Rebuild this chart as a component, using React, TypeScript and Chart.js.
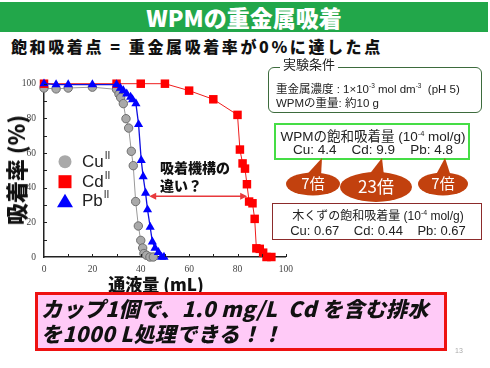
import React, { useEffect, useRef } from "react";
import { Chart, registerables } from "chart.js";

Chart.register(...registerables);

// ---- data ----
const cuVolume = [0, 5, 10, 20, 30, 31, 31.7, 32.8, 33.9, 35, 36.1, 36.9, 37.9, 39, 40, 40.8, 41.3, 42.4, 43.8, 45.2];
const cuRate = [97.5, 97, 97.5, 98, 96.7, 94, 92, 88.5, 79.8, 74.4, 61, 52.7, 32, 17.9, 9.6, 5.2, 2, 1, 0, 0];

const cdVolume = [0, 30, 40, 50, 60, 70, 80, 81, 82.1, 83.1, 83.9, 84.8, 86.2, 87.1, 87.8, 89.2, 90.6, 92, 94];
const cdRate = [100, 100, 100, 100, 96, 91, 82, 62, 54, 51, 42, 32, 31, 22, 5, 4.7, 2.5, 0, 0];

const pbVolume = [0, 5, 10, 20, 30, 31.6, 32.8, 34.2, 35.8, 36.6, 38, 39.1, 40.2, 41, 42, 42.8, 43.9, 44.8, 45.9, 47.3, 48.6, 49.6];
const pbRate = [100, 99.5, 99.5, 99.5, 99.5, 97.5, 96, 94.2, 92.3, 90.8, 88.5, 76.5, 55.8, 46.4, 36.9, 27.3, 17.3, 8.7, 5.2, 2.7, 0, 0];

const seriesNames = ["Cu", "Cd", "Pb"];
const seriesSup = "II";
const xTicks = [0, 20, 40, 60, 80, 100];
const yTicks = [0, 20, 40, 60, 80, 100];
const arrowVolumes = [43.5, 84];
const arrowRate = 35;

const JP = '"Noto Sans CJK JP", sans-serif';
const SANS = '"Liberation Sans", "Noto Sans CJK JP", sans-serif';

const innerTicks = {
  id: "innerTicks",
  afterDraw(chart: any) {
    const { ctx, chartArea, scales } = chart;
    ctx.save();
    ctx.strokeStyle = "#222";
    ctx.lineWidth = 1;
    for (let v = 10; v <= 100; v += 10) {
      const px = Math.round(scales.x.getPixelForValue(v)) + 0.5;
      ctx.beginPath();
      ctx.moveTo(px, chartArea.bottom);
      ctx.lineTo(px, chartArea.bottom - 3);
      ctx.stroke();
      const py = Math.round(scales.y.getPixelForValue(v)) + 0.5;
      ctx.beginPath();
      ctx.moveTo(chartArea.left, py);
      ctx.lineTo(chartArea.left + 3, py);
      ctx.stroke();
    }
    ctx.restore();
  },
};

const arrowPlugin = {
  id: "arrowPlugin",
  afterDatasetsDraw(chart: any) {
    const { ctx, scales } = chart;
    const x1 = scales.x.getPixelForValue(arrowVolumes[0]);
    const x2 = scales.x.getPixelForValue(arrowVolumes[1]);
    const y = scales.y.getPixelForValue(arrowRate);
    ctx.save();
    ctx.strokeStyle = "#e8393c";
    ctx.fillStyle = "#e8393c";
    ctx.lineWidth = 1.5;
    ctx.beginPath();
    ctx.moveTo(x1 + 3, y);
    ctx.lineTo(x2 - 3, y);
    ctx.stroke();
    const head = (tip: number, dir: number) => {
      ctx.beginPath();
      ctx.moveTo(tip, y);
      ctx.lineTo(tip + dir * 7, y - 3.5);
      ctx.lineTo(tip + dir * 7, y + 3.5);
      ctx.closePath();
      ctx.fill();
    };
    head(x1, 1);
    head(x2, -1);
    ctx.restore();
  },
};

const legendPlugin = {
  id: "customLegend",
  afterDraw(chart: any) {
    const { ctx, chartArea } = chart;
    const x0 = chartArea.left + 21;
    const ys = [chartArea.top + 78, chartArea.top + 98, chartArea.top + 117];
    ctx.save();
    chart.data.datasets.forEach((ds: any, i: number) => {
      const y = ys[i];
      ctx.fillStyle = ds.pointBackgroundColor;
      ctx.beginPath();
      if (ds.pointStyle === "circle") {
        ctx.arc(x0, y, 6.5, 0, Math.PI * 2);
        ctx.fill();
      } else if (ds.pointStyle === "rect") {
        ctx.rect(x0 - 6.5, y - 6.5, 13, 13);
        ctx.fill();
      } else {
        ctx.moveTo(x0, y - 7);
        ctx.lineTo(x0 + 8, y + 6.5);
        ctx.lineTo(x0 - 8, y + 6.5);
        ctx.closePath();
        ctx.fill();
      }
      ctx.fillStyle = "#222";
      ctx.textBaseline = "middle";
      ctx.textAlign = "left";
      ctx.font = '17px "Liberation Sans", sans-serif';
      const name = seriesNames[i];
      ctx.fillText(name, x0 + 17, y + 1);
      const w = ctx.measureText(name).width;
      ctx.font = '10px "Liberation Sans", sans-serif';
      ctx.fillText(seriesSup, x0 + 18 + w, y - 5);
    });
    ctx.restore();
  },
};

function SlideChart() {
  const ref = useRef<HTMLCanvasElement | null>(null);
  useEffect(() => {
    if (!ref.current) return;
    const toPts = (xs: number[], ys: number[]) => xs.map((x, i) => ({ x, y: ys[i] }));
    const chart = new Chart(ref.current, {
      type: "line",
      data: {
        datasets: [
          {
            label: "CuII",
            data: toPts(cuVolume, cuRate),
            borderColor: "#9a9a9a",
            borderWidth: 1,
            pointStyle: "circle",
            pointRadius: 4.2,
            pointBackgroundColor: "#a9a9a9",
            pointBorderColor: "#6e6e6e",
            pointBorderWidth: 1,
            order: 2,
            clip: false,
          },
          {
            label: "CdII",
            data: toPts(cdVolume, cdRate),
            borderColor: "#ee1c1c",
            borderWidth: 1,
            pointStyle: "rect",
            pointRadius: 6,
            pointBackgroundColor: "#ff0000",
            pointBorderColor: "#ff0000",
            pointBorderWidth: 0,
            order: 1,
            clip: false,
          },
          {
            label: "PbII",
            data: toPts(pbVolume, pbRate),
            borderColor: "#1010e0",
            borderWidth: 1.3,
            pointStyle: "triangle",
            pointRadius: 5.3,
            pointBackgroundColor: "#0000ff",
            pointBorderColor: "#0000ff",
            pointBorderWidth: 0,
            order: 0,
            clip: false,
          },
        ] as any,
      },
      options: {
        responsive: false,
        animation: false,
        devicePixelRatio: 1,
        layout: { padding: { top: 13, right: 14, left: 0, bottom: 0 } },
        plugins: { legend: { display: false }, tooltip: { enabled: false } },
        elements: { line: { tension: 0 } },
        scales: {
          x: {
            type: "linear",
            min: 0,
            max: 100,
            grid: { display: false, drawTicks: false },
            border: { display: true, color: "#222", width: 1.5 },
            afterBuildTicks: (s: any) => {
              s.ticks = xTicks.map((v) => ({ value: v }));
            },
            afterFit: (s: any) => {
              s.height = 20;
            },
            ticks: {
              autoSkip: false,
              maxRotation: 0,
              padding: 7,
              color: "#444",
              font: { family: '"Liberation Serif", serif', size: 9.5 },
            },
          },
          y: {
            type: "linear",
            min: 0,
            max: 100,
            grid: { display: false, drawTicks: false },
            border: { display: true, color: "#222", width: 1.5 },
            afterBuildTicks: (s: any) => {
              s.ticks = yTicks.map((v) => ({ value: v }));
            },
            afterFit: (s: any) => {
              s.width = 44;
            },
            ticks: {
              autoSkip: false,
              padding: 8,
              color: "#444",
              font: { family: '"Liberation Serif", serif', size: 9.5 },
            },
          },
        },
      } as any,
      plugins: [innerTicks, arrowPlugin, legendPlugin],
    });
    return () => chart.destroy();
  }, []);
  return (
    <canvas
      ref={ref}
      width={300}
      height={207}
      style={{ position: "absolute", left: 0, top: 70, width: 300, height: 207 }}
    />
  );
}

function Callouts() {
  const fill = "#c2410e";
  const items = [
    { cx: 313, cy: 184, rx: 27, ry: 11.5, tip: 322, label: "7倍", size: 15 },
    { cx: 376, cy: 187, rx: 36, ry: 15, tip: 382, label: "23倍", size: 17 },
    { cx: 443, cy: 184, rx: 25, ry: 11.5, tip: 445, label: "7倍", size: 15 },
  ];
  return (
    <svg
      width={490}
      height={368}
      style={{ position: "absolute", left: 0, top: 0, pointerEvents: "none" }}
    >
      {items.map((it, i) => (
        <g key={i}>
          <polygon
            points={`${it.tip},158 ${it.cx - 8},${it.cy - it.ry + 4} ${it.cx + 8},${it.cy - it.ry + 4}`}
            fill={fill}
          />
          <ellipse cx={it.cx} cy={it.cy} rx={it.rx} ry={it.ry} fill={fill} />
          <text
            x={it.cx}
            y={it.cy + it.size * 0.36}
            textAnchor="middle"
            fill="#fff"
            fontFamily={JP}
            fontSize={it.size}
          >
            {it.label}
          </text>
        </g>
      ))}
    </svg>
  );
}

export default function App() {
  useEffect(() => {
    document.body.style.margin = "0";
  }, []);
  const abs: React.CSSProperties = { position: "absolute", whiteSpace: "nowrap" };
  return (
    <div
      style={{
        position: "fixed",
        left: 0,
        top: 0,
        width: 490,
        height: 368,
        background: "#fff",
        overflow: "hidden",
        fontFamily: SANS,
      }}
    >
      {/* title band */}
      <div
        style={{
          ...abs,
          left: 0,
          top: 2,
          width: 488,
          height: 30,
          background: "#22a74a",
          color: "#fff",
          textAlign: "center",
          fontFamily: JP,
          fontWeight: 900,
          fontSize: 23,
          lineHeight: "30px",
        }}
      >
        WPMの重金属吸着
      </div>
      <div
        style={{
          ...abs,
          left: 11,
          top: 36,
          fontFamily: JP,
          fontWeight: 900,
          fontSize: 16,
          lineHeight: "20px",
          letterSpacing: 2.6,
          color: "#111",
        }}
      >
        飽和吸着点 = 重金属吸着率が0%に達した点
      </div>

      <SlideChart />

      {/* axis titles */}
      <div
        style={{
          ...abs,
          left: 15,
          top: 170,
          transform: "translate(-50%, -50%) rotate(-90deg)",
          fontFamily: JP,
          fontWeight: 900,
          fontSize: 22,
          color: "#111",
        }}
      >
        吸着率 (%)
      </div>
      <div
        style={{
          ...abs,
          left: 156,
          top: 283,
          transform: "translate(-50%, -50%)",
          fontFamily: JP,
          fontWeight: 900,
          fontSize: 17,
          color: "#111",
        }}
      >
        通液量 (mL)
      </div>

      {/* annotation */}
      <div
        style={{
          ...abs,
          left: 160,
          top: 158,
          fontFamily: JP,
          fontWeight: 900,
          fontSize: 14,
          lineHeight: "18px",
          color: "#111",
        }}
      >
        吸着機構の
        <br />
        違い？
      </div>

      {/* 実験条件 box */}
      <div
        style={{
          position: "absolute",
          left: 268,
          top: 67,
          width: 212,
          height: 44,
          border: "1.5px solid #3d6b3d",
          borderRadius: 6,
        }}
      />
      <div
        style={{
          ...abs,
          left: 280,
          top: 56,
          padding: "0 3px",
          background: "#fff",
          fontFamily: JP,
          fontSize: 13,
          lineHeight: "15px",
          color: "#222",
        }}
      >
        実験条件
      </div>
      <div style={{ ...abs, left: 276, top: 78, fontSize: 11.5, lineHeight: "16px", color: "#222" }}>
        重金属濃度 : 1×10<sup style={{ fontSize: 6.5 }}>-3</sup> mol dm<sup style={{ fontSize: 6.5 }}>-3</sup>
        &nbsp;&nbsp;(pH 5)
      </div>
      <div style={{ ...abs, left: 276, top: 95, fontSize: 11.5, lineHeight: "16px", color: "#222" }}>
        WPMの重量: 約10 g
      </div>

      {/* WPM box */}
      <div
        style={{
          position: "absolute",
          left: 274,
          top: 123,
          width: 192,
          height: 33,
          border: "2px solid #45dd45",
        }}
      />
      <div
        style={{
          ...abs,
          left: 373,
          top: 135,
          transform: "translate(-50%, -50%)",
          fontSize: 13.5,
          color: "#222",
        }}
      >
        WPMの飽和吸着量 (10<sup style={{ fontSize: 7.5 }}>-4</sup> mol/g)
      </div>
      <div
        style={{
          ...abs,
          left: 373,
          top: 149,
          transform: "translate(-50%, -50%)",
          fontSize: 13.5,
          color: "#222",
        }}
      >
        Cu: 4.4&nbsp;&nbsp;&nbsp;&nbsp;Cd: 9.9&nbsp;&nbsp;&nbsp;&nbsp;Pb: 4.8
      </div>

      <Callouts />

      {/* wood chips box */}
      <div
        style={{
          position: "absolute",
          left: 272,
          top: 203,
          width: 208,
          height: 35,
          border: "1.5px solid #8c2b2b",
        }}
      />
      <div
        style={{
          ...abs,
          left: 378,
          top: 214,
          transform: "translate(-50%, -50%)",
          fontSize: 12,
          color: "#222",
        }}
      >
        木くずの飽和吸着量 (10<sup style={{ fontSize: 7 }}>-4</sup> mol/g)
      </div>
      <div
        style={{
          ...abs,
          left: 378,
          top: 230,
          transform: "translate(-50%, -50%)",
          fontSize: 13,
          color: "#222",
        }}
      >
        Cu: 0.67&nbsp;&nbsp;&nbsp;&nbsp;Cd: 0.44&nbsp;&nbsp;&nbsp;&nbsp;Pb: 0.67
      </div>

      {/* pink message box */}
      <div
        style={{
          position: "absolute",
          left: 35,
          top: 292,
          width: 406,
          height: 53,
          border: "3px solid #ee1111",
          background: "#ffcaf7",
        }}
      />
      <div
        style={{
          ...abs,
          left: 41,
          top: 296,
          fontFamily: JP,
          fontWeight: 900,
          fontStyle: "italic",
          fontSize: 21,
          lineHeight: "25px",
          letterSpacing: 0.4,
          color: "#111",
        }}
      >
        カップ1個で、1.0 mg/L&nbsp;&nbsp;Cd を含む排水
        <br />
        を1000 L処理できる！！
      </div>
      <div style={{ ...abs, left: 455, top: 347, fontSize: 7, color: "#aaa" }}>13</div>
    </div>
  );
}
